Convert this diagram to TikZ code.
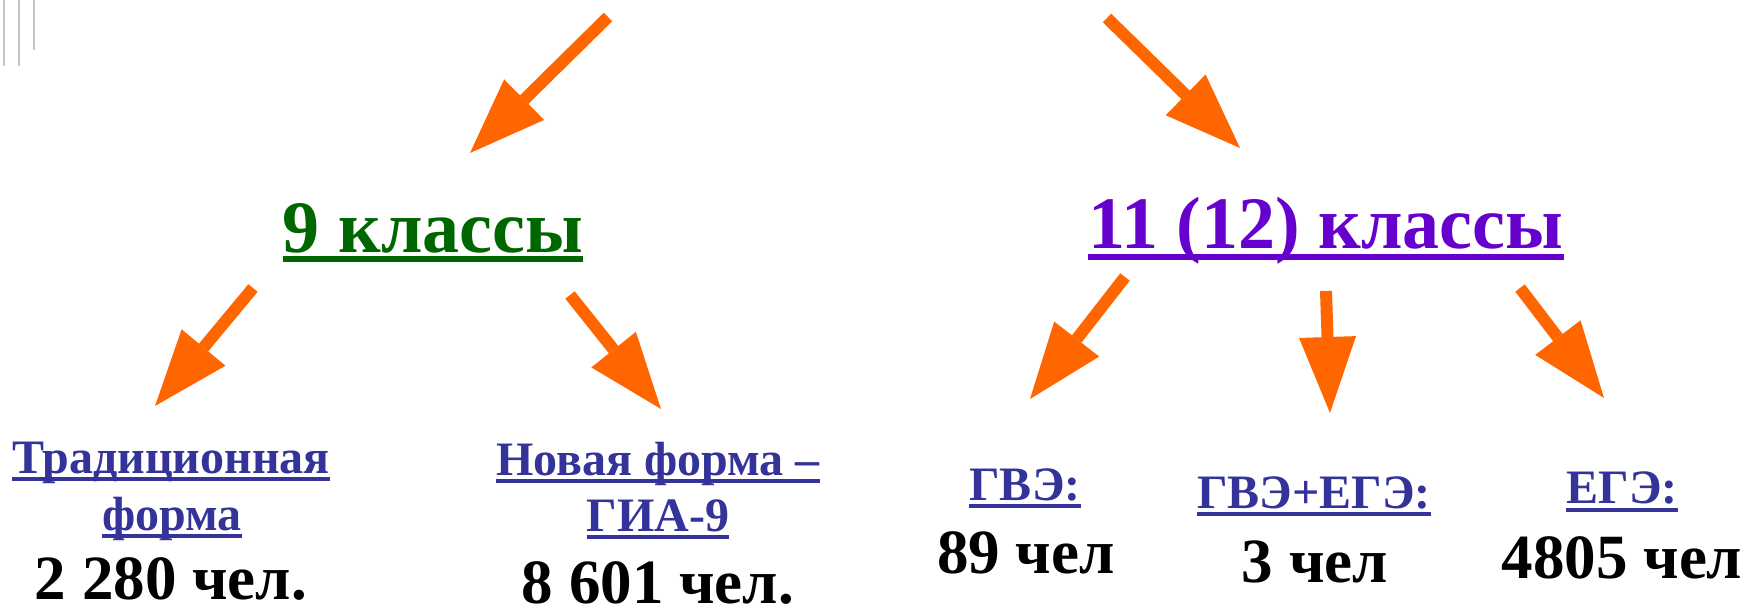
\documentclass[tikz,border=0pt]{standalone}
\usepackage{fontspec}
\setmainfont{Liberation Serif}
\usetikzlibrary{arrows.meta}
\definecolor{arroworange}{HTML}{FF6600}
\definecolor{headgreen}{HTML}{006600}
\definecolor{headpurple}{HTML}{6600CC}
\definecolor{labelblue}{HTML}{333399}
\begin{document}
\begin{tikzpicture}[x=1pt,y=-1pt,
  bigarrow/.style={draw=arroworange, line width=12pt, line cap=butt,
    -{Triangle[length=76pt,width=57pt,line width=0pt]}},
  heading/.style={anchor=base, inner sep=0pt, font=\fontsize{74}{80}\selectfont\bfseries},
  lbl/.style={anchor=base, inner sep=0pt, text=labelblue, font=\fontsize{48}{54}\selectfont\bfseries},
  cnt/.style={anchor=base, inner sep=0pt, text=black, font=\fontsize{63}{68}\selectfont\bfseries},
  headline/.style={line width=5.5pt},
  lblline/.style={draw=labelblue, line width=4pt},
  faint/.style={draw=gray!45, line width=2.5pt}
]
\useasboundingbox (0,0) rectangle (1750,607);

% faint marks top-left
\draw[faint] (4,0) -- (4,66);
\draw[faint] (19,0) -- (19,66);
\draw[faint] (34,0) -- (34,50);

% headings
\node[heading, text=headgreen] (h9) at (433,252) {9 классы};
\draw[headline, draw=headgreen] ([yshift=-7pt]h9.base west) -- ([yshift=-7pt]h9.base east);
\node[heading, text=headpurple] (h11) at (1326,248) {11 (12) классы};
\draw[headline, draw=headpurple] ([yshift=-9pt]h11.base west) -- ([yshift=-9pt]h11.base east);

% left labels
\node[lbl] (trad1) at (171,473) {Традиционная};
\draw[lblline] ([yshift=-5.5pt]trad1.base west) -- ([yshift=-5.5pt]trad1.base east);
\node[lbl] (trad2) at (172,530) {форма};
\draw[lblline] ([yshift=-5.5pt]trad2.base west) -- ([yshift=-5.5pt]trad2.base east);
\node[cnt] (tradn) at (171,599) {2 280 чел.};

\node[lbl] (new1) at (658,475) {Новая форма –};
\draw[lblline] ([yshift=-6pt]new1.base west) -- ([yshift=-6pt]new1.base east);
\node[lbl] (new2) at (658,531) {ГИА-9};
\draw[lblline] ([yshift=-6pt]new2.base west) -- ([yshift=-6pt]new2.base east);
\node[cnt] (newn) at (658,603) {8 601 чел.};

% right labels
\node[lbl] (gve) at (1025,500) {ГВЭ:};
\draw[lblline] ([yshift=-5.5pt]gve.base west) -- ([yshift=-5.5pt]gve.base east);
\node[cnt] (gven) at (1026,573) {89 чел};
\node[lbl] (both) at (1314,508) {ГВЭ+ЕГЭ:};
\draw[lblline] ([yshift=-6pt]both.base west) -- ([yshift=-6pt]both.base east);
\node[cnt] (bothn) at (1315,582) {3 чел};
\node[lbl] (ege) at (1622,503) {ЕГЭ:};
\draw[lblline] ([yshift=-6.5pt]ege.base west) -- ([yshift=-6.5pt]ege.base east);
\node[cnt] (egen) at (1622,578) {4805 чел};

% arrow coordinates
\coordinate (a1s) at (608,17);   \coordinate (a1e) at (470,153);
\coordinate (a2s) at (1107,18);  \coordinate (a2e) at (1240,148);
\coordinate (a3s) at (253,288);  \coordinate (a3e) at (155,406);
\coordinate (a4s) at (570,295);  \coordinate (a4e) at (661,409);
\coordinate (a5s) at (1125,277); \coordinate (a5e) at (1030,399);
\coordinate (a6s) at (1326,291); \coordinate (a6e) at (1330,413);
\coordinate (a7s) at (1520,288); \coordinate (a7e) at (1604,398);

\draw[bigarrow] (a1s) -- (a1e);
\draw[bigarrow] (a2s) -- (a2e);
\draw[bigarrow] (a3s) -- (a3e);
\draw[bigarrow] (a4s) -- (a4e);
\draw[bigarrow] (a5s) -- (a5e);
\draw[bigarrow] (a6s) -- (a6e);
\draw[bigarrow] (a7s) -- (a7e);
\end{tikzpicture}
\end{document}
